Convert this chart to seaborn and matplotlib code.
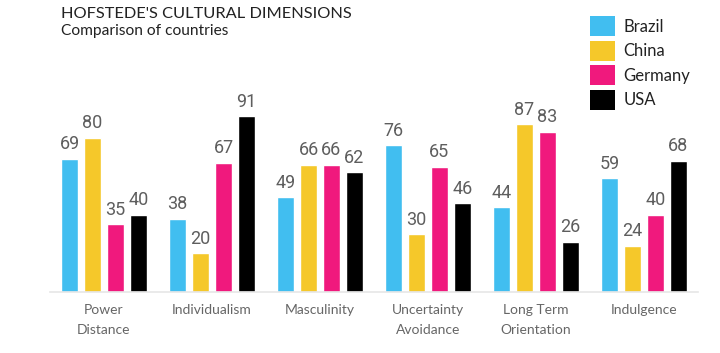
import matplotlib
matplotlib.use("Agg")
import matplotlib.pyplot as plt
import seaborn as sns
import pandas as pd
from matplotlib.patches import Patch

dimensions = ["Power\nDistance", "Individualism", "Masculinity", "Uncertainty\nAvoidance",
              "Long Term\nOrientation", "Indulgence"]
countries = ["Brazil", "China", "Germany", "USA"]
brazil = [69, 38, 49, 76, 44, 59]
china = [80, 20, 66, 30, 87, 24]
germany = [35, 67, 66, 65, 83, 40]
usa = [40, 91, 62, 46, 26, 68]
colors = ["#41BEF0", "#F5C82A", "#F0197D", "#000000"]

rows = []
for c, vals in zip(countries, [brazil, china, germany, usa]):
    for d, v in zip(dimensions, vals):
        rows.append({"Dimension": d, "Country": c, "Value": v})
df = pd.DataFrame(rows)

sns.set_theme(style="white")
plt.rcParams["font.family"] = ["Lato", "DejaVu Sans"]

fig = plt.figure(figsize=(7.2, 3.53), dpi=100)
ax = fig.add_axes([50 / 720, (353 - 292) / 353, 648 / 720, 193 / 353])
sns.barplot(data=df, x="Dimension", y="Value", hue="Country", order=dimensions,
            hue_order=countries, palette=colors, width=0.85, gap=0.26,
            saturation=1, ax=ax, legend=False)
ax.set_xlim(-0.5, 5.5)
ax.set_ylim(0, 100)
ax.set_xlabel("")
ax.set_ylabel("")
ax.set_yticks([])
for s in ["top", "right", "left"]:
    ax.spines[s].set_visible(False)
ax.spines["bottom"].set_color("#e6e6e6")
ax.spines["bottom"].set_linewidth(1.2)
ax.tick_params(axis="x", length=0, pad=9, labelsize=10, labelcolor="#666666")
for lbl in ax.get_xticklabels():
    lbl.set_linespacing(1.75)

for cont in ax.containers:
    ax.bar_label(cont, padding=4, fontsize=13, color="#5e5e5e",
                 family=["Roboto", "DejaVu Sans"])

fig.text(61 / 720, 1 - 14 / 353, "HOFSTEDE'S CULTURAL DIMENSIONS", fontsize=11.8,
         color="#222222", va="center", ha="left")
fig.text(61 / 720, 1 - 31 / 353, "Comparison of countries", fontsize=11.2,
         color="#222222", va="center", ha="left")

handles = [Patch(facecolor=col, edgecolor="none") for col in colors]
fig.legend(handles, countries, loc="upper left", bbox_to_anchor=(582 / 720, 1 - 8 / 353),
           frameon=False, fontsize=12, handlelength=1.45, handleheight=1.45,
           handletextpad=0.55, labelspacing=0.28, borderpad=0, labelcolor="#222222")

fig.savefig("out.png", dpi=100)
